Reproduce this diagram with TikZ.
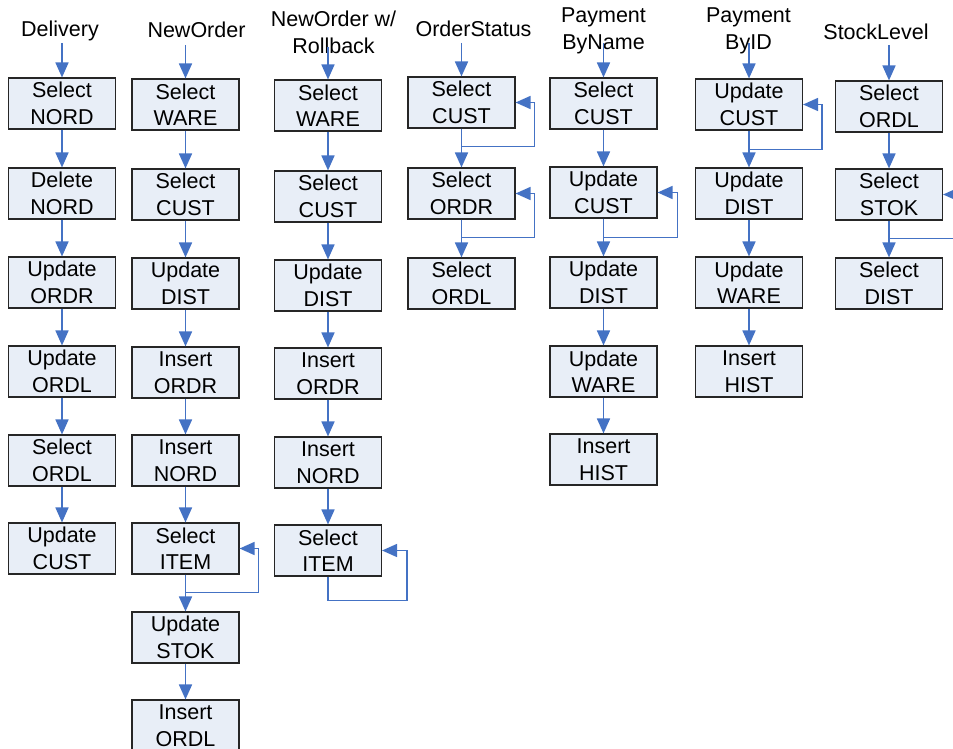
\documentclass[tikz,border=0pt]{standalone}
\usepackage{fontspec}
\setmainfont{Liberation Sans}
\usetikzlibrary{arrows.meta}
\definecolor{flowblue}{RGB}{68,114,196}
\definecolor{boxfill}{RGB}{232,238,247}
\begin{document}
\begin{tikzpicture}[x=1pt,y=-1pt,
  op/.style={draw=black!85, line width=1.1pt, fill=boxfill,
    minimum width=107pt, minimum height=51pt, inner sep=0pt,
    align=center, font=\fontsize{21.5}{26.5}\selectfont},
  title/.style={inner sep=0pt, align=center, font=\fontsize{21.5}{26.5}\selectfont},
  flow/.style={draw=flowblue, line width=1.7pt, -{Triangle[length=15pt,width=13pt]}},
  loopback/.style={draw=flowblue, line width=1.5pt, -{Triangle[length=15pt,width=13pt]}}]

\useasboundingbox (0,0) rectangle (953,749);

% transaction titles
\node[title, anchor=base] (tDel) at (60,37) {Delivery};
\node[title, anchor=base] (tNew) at (196.5,38) {NewOrder};
\node[title] (tRb) at (333.5,32.2) {NewOrder w/\\Rollback};
\node[title, anchor=base] (tOS) at (473.5,37) {OrderStatus};
\node[title] (tPN) at (603.5,30.9) {Payment\\ByName};
\node[title] (tPI) at (748.5,30.9) {Payment\\ByID};
\node[title, anchor=base] (tSL) at (876,40) {StockLevel};

% start points of the entry arrows
\coordinate (sDel) at (62,43);
\coordinate (sNew) at (185.5,45);
\coordinate (sRb) at (328,47);
\coordinate (sOS) at (461.5,43);
\coordinate (sPN) at (603.5,43);
\coordinate (sPI) at (749,43);
\coordinate (sSL) at (889,45);

% Delivery
\node[op] (d1) at (62,103.5) {Select\\NORD};
\node[op] (d2) at (62,193.5) {Delete\\NORD};
\node[op] (d3) at (62,282.5) {Update\\ORDR};
\node[op] (d4) at (62,371.5) {Update\\ORDL};
\node[op] (d5) at (62,460.5) {Select\\ORDL};
\node[op] (d6) at (62,548.5) {Update\\CUST};

% NewOrder
\node[op] (n1) at (185.5,104.5) {Select\\WARE};
\node[op] (n2) at (185.5,194.5) {Select\\CUST};
\node[op] (n3) at (185.5,283.5) {Update\\DIST};
\node[op] (n4) at (185.5,372.5) {Insert\\ORDR};
\node[op] (n5) at (185.5,460.5) {Insert\\NORD};
\node[op] (n6) at (185.5,548.5) {Select\\ITEM};
\node[op] (n7) at (185.5,637.5) {Update\\STOK};
\node[op] (n8) at (185.5,725.5) {Insert\\ORDL};

% NewOrder with rollback
\node[op] (r1) at (328,105.5) {Select\\WARE};
\node[op] (r2) at (328,196.5) {Select\\CUST};
\node[op] (r3) at (328,285.5) {Update\\DIST};
\node[op] (r4) at (328,373.5) {Insert\\ORDR};
\node[op] (r5) at (328,462.5) {Insert\\NORD};
\node[op] (r6) at (328,550.5) {Select\\ITEM};

% OrderStatus
\node[op] (o1) at (461.5,102.5) {Select\\CUST};
\node[op] (o2) at (461.5,193.5) {Select\\ORDR};
\node[op] (o3) at (461.5,283.5) {Select\\ORDL};

% Payment by name
\node[op] (p1) at (603.5,103.5) {Select\\CUST};
\node[op] (p2) at (603.5,192.5) {Update\\CUST};
\node[op] (p3) at (603.5,282.5) {Update\\DIST};
\node[op] (p4) at (603.5,371.5) {Update\\WARE};
\node[op] (p5) at (603.5,459.5) {Insert\\HIST};

% Payment by id
\node[op] (q1) at (749,104.5) {Update\\CUST};
\node[op] (q2) at (749,193.5) {Update\\DIST};
\node[op] (q3) at (749,282.5) {Update\\WARE};
\node[op] (q4) at (749,371.5) {Insert\\HIST};

% StockLevel
\node[op] (s1) at (889,106.5) {Select\\ORDL};
\node[op] (s2) at (889,194.5) {Select\\STOK};
\node[op] (s3) at (889,283.5) {Select\\DIST};

% entry arrows
\draw[flow] (sDel) -- (d1);
\draw[flow] (sNew) -- (n1);
\draw[flow] (sRb) -- (r1);
\draw[flow] (sOS) -- (o1);
\draw[flow] (sPN) -- (p1);
\draw[flow] (sPI) -- (q1);
\draw[flow] (sSL) -- (s1);

% sequence arrows
\foreach \a/\b in {d1/d2,d2/d3,d3/d4,d4/d5,d5/d6,
                   n1/n2,n2/n3,n3/n4,n4/n5,n5/n6,n6/n7,n7/n8,
                   r1/r2,r2/r3,r3/r4,r4/r5,r5/r6,
                   o1/o2,o2/o3,
                   p1/p2,p2/p3,p3/p4,p4/p5,
                   q1/q2,q2/q3,q3/q4,
                   s1/s2,s2/s3}
  \draw[flow] (\a) -- (\b);

% repetition loops
\draw[loopback] (o1.south) -- ++(0,18) -| ([xshift=19pt]o1.east) -- (o1.east);
\draw[loopback] (o2.south) -- ++(0,18) -| ([xshift=19pt]o2.east) -- (o2.east);
\draw[loopback] (p2.south) -- ++(0,19) -| ([xshift=20pt]p2.east) -- (p2.east);
\draw[loopback] (q1.south) -- ++(0,19) -| ([xshift=19pt]q1.east) -- (q1.east);
\draw[loopback] (s2.south) -- ++(0,18) -| ([xshift=19pt]s2.east) -- (s2.east);
\draw[loopback] (n6.south) -- ++(0,18) -| ([xshift=19pt]n6.east) -- (n6.east);
\draw[loopback] (r6.south) -- ++(0,24) -| ([xshift=25pt]r6.east) -- (r6.east);

\end{tikzpicture}
\end{document}
